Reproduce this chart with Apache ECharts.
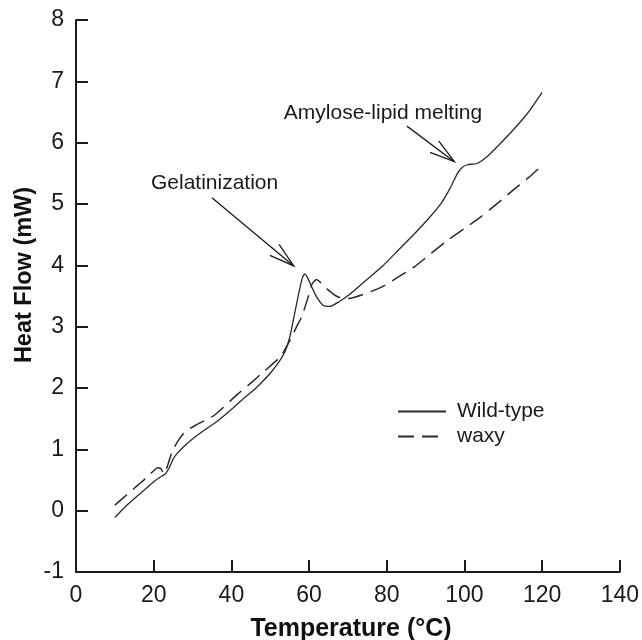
<!DOCTYPE html>
<html>
<head>
<meta charset="utf-8">
<script src="https://cdn.jsdelivr.net/npm/echarts@6/dist/echarts.min.js"></script>
<style>html,body{margin:0;padding:0;background:#fff}#c{width:642px;height:640px}</style>
</head>
<body>
<div id="c"></div>
<script>
// Temperature (°C) / Heat Flow (mW)
const wildTypeX = [10,12,14,16,18,20,22,23,24,25,26,28,30,33,36,40,43,46,48.4,50,52.6,54,55.1,56.4,57.6,58.3,58.9,59.6,60.6,61.9,63.6,65.3,67.8,70.3,74,78.8,83,87.2,91,94,96.5,98.2,99.5,100.8,102,103.3,105.8,109,112.6,116.5,120];
const wildTypeY = [-0.11,0.02,0.14,0.25,0.36,0.47,0.56,0.60,0.70,0.84,0.93,1.06,1.17,1.31,1.44,1.65,1.82,1.98,2.13,2.24,2.46,2.62,2.85,3.25,3.62,3.80,3.86,3.80,3.66,3.49,3.35,3.33,3.41,3.52,3.72,3.98,4.25,4.52,4.78,5.01,5.28,5.50,5.60,5.64,5.65,5.66,5.77,5.97,6.21,6.50,6.82];
const waxyX = [10,12,14,16,18,20,21,21.8,22.6,23.5,24.3,25.3,26.4,28.1,31,35.7,41.6,45,48.4,52.6,55.1,56.8,58.1,59.8,60.8,61.9,62.8,64,65.3,67,68.7,70.3,73.7,78.8,83,87.2,91.5,95.7,100,104.2,108.5,112.6,116.5,120];
const waxyY = [0.09,0.20,0.31,0.42,0.53,0.65,0.70,0.69,0.60,0.72,0.88,1.03,1.15,1.29,1.40,1.56,1.90,2.08,2.27,2.51,2.78,3.00,3.16,3.49,3.70,3.77,3.73,3.65,3.58,3.50,3.46,3.46,3.52,3.65,3.81,3.98,4.20,4.41,4.60,4.79,5.01,5.23,5.43,5.63];
const seriesNames = ['Wild-type', 'waxy'];
const xTitle = 'Temperature (°C)';
const yTitle = 'Heat Flow (mW)';
// annotations in data coordinates: label anchor, arrow tail, arrow tip
const annoText = ['Gelatinization', 'Amylose-lipid melting'];
const annoLabelAt = [[19.3, 5.34], [53.5, 6.48]];
const annoTail = [[35.0, 5.10], [85.2, 6.27]];
const annoTip = [[56.05, 3.99], [97.4, 5.69]];

const FONT = '"Liberation Sans", Arial, sans-serif';
const INK = '#1a1a1a';
const zip = (a, b) => a.map((v, i) => [v, b[i]]);

const chart = echarts.init(document.getElementById('c'), null, {renderer: 'canvas'});
const axisCommon = {
  axisLine: {onZero: false, lineStyle: {color: INK, width: 2}},
  axisTick: {inside: true, length: 12, lineStyle: {color: INK, width: 2}},
  splitLine: {show: false},
  axisLabel: {color: INK, fontSize: 23, fontFamily: FONT}
};
chart.setOption({
  animation: false,
  backgroundColor: '#fff',
  grid: {left: 76, right: 14, top: 20, bottom: 68},
  xAxis: Object.assign({type: 'value', min: 0, max: 140, interval: 20}, axisCommon,
    {axisLabel: Object.assign({}, axisCommon.axisLabel, {margin: 12})}),
  yAxis: Object.assign({type: 'value', min: -1, max: 8, interval: 1}, axisCommon,
    {axisLabel: Object.assign({}, axisCommon.axisLabel, {margin: 12})}),
  legend: {
    data: seriesNames,
    orient: 'vertical', left: 397, top: 401, padding: 0,
    itemWidth: 48, itemHeight: 12, itemGap: 4,
    itemStyle: {opacity: 0},
    textStyle: {fontSize: 21, fontFamily: FONT, color: INK, padding: [0, 0, 0, 6]}
  },
  series: [
    {name: seriesNames[0], type: 'line', data: zip(wildTypeX, wildTypeY), symbol: 'none', smooth: 0.2,
     lineStyle: {color: '#2a2a2a', width: 1.3, type: 'solid'}, itemStyle: {color: '#2a2a2a'}},
    {name: seriesNames[1], type: 'line', data: zip(waxyX, waxyY), symbol: 'none', smooth: 0.2,
     lineStyle: {color: '#2a2a2a', width: 1.5, type: [16, 8]}, itemStyle: {color: '#2a2a2a'}}
  ]
});

const px = p => chart.convertToPixel({gridIndex: 0}, p);
const graphics = [];
graphics.push({type: 'text', x: 351, y: 629, style: {text: xTitle, font: 'bold 25px ' + FONT, fill: '#111', align: 'center', verticalAlign: 'middle'}});
graphics.push({type: 'text', x: 25, y: 275, rotation: Math.PI / 2, style: {text: yTitle, font: 'bold 23.5px ' + FONT, fill: '#111', align: 'center', verticalAlign: 'middle'}});
for (let i = 0; i < annoText.length; i++) {
  const l = px(annoLabelAt[i]);
  graphics.push({type: 'text', x: l[0], y: l[1], style: {text: annoText[i], font: '21px ' + FONT, fill: INK, align: 'left', verticalAlign: 'middle'}});
  const t = px(annoTail[i]), h = px(annoTip[i]);
  graphics.push({type: 'line', shape: {x1: t[0], y1: t[1], x2: h[0], y2: h[1]}, style: {stroke: INK, lineWidth: 1.3}});
  const ang = Math.atan2(t[1] - h[1], t[0] - h[0]);
  const L = 26, d = 16 * Math.PI / 180;
  graphics.push({type: 'polyline', shape: {points: [
    [h[0] + L * Math.cos(ang + d), h[1] + L * Math.sin(ang + d)], h,
    [h[0] + L * Math.cos(ang - d), h[1] + L * Math.sin(ang - d)]]}, style: {stroke: INK, lineWidth: 1.3, fill: null}});
}
chart.setOption({graphic: graphics});
</script>
</body>
</html>
